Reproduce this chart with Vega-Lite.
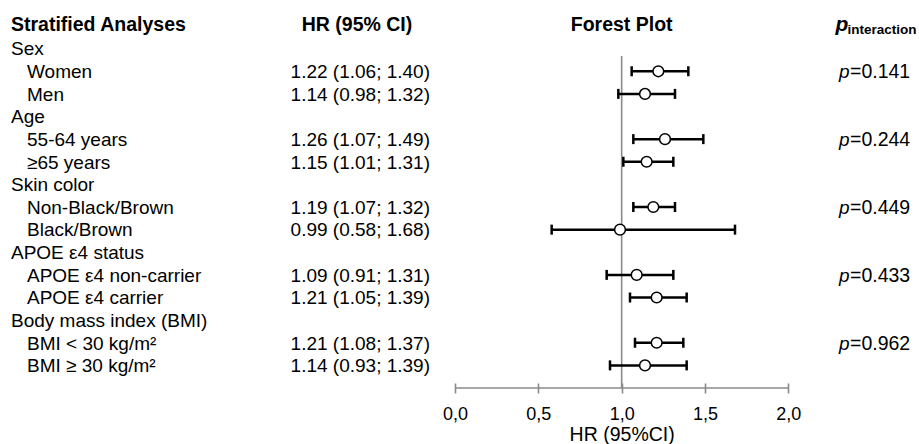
{
  "$schema": "https://vega.github.io/schema/vega-lite/v6.json",
  "padding": 0,
  "spacing": 0,
  "bounds": "flush",
  "config": {"view": {"stroke": null}, "font": "Liberation Sans"},
  "data": {"values": [
    {"row": 0, "label": "Sex", "level": 0},
    {"row": 1, "label": "Women", "level": 1, "hr": 1.22, "lo": 1.06, "hi": 1.40, "ci": "1.22 (1.06; 1.40)", "p": 0.141},
    {"row": 2, "label": "Men", "level": 1, "hr": 1.14, "lo": 0.98, "hi": 1.32, "ci": "1.14 (0.98; 1.32)"},
    {"row": 3, "label": "Age", "level": 0},
    {"row": 4, "label": "55-64 years", "level": 1, "hr": 1.26, "lo": 1.07, "hi": 1.49, "ci": "1.26 (1.07; 1.49)", "p": 0.244},
    {"row": 5, "label": "≥65 years", "level": 1, "hr": 1.15, "lo": 1.01, "hi": 1.31, "ci": "1.15 (1.01; 1.31)"},
    {"row": 6, "label": "Skin color", "level": 0},
    {"row": 7, "label": "Non-Black/Brown", "level": 1, "hr": 1.19, "lo": 1.07, "hi": 1.32, "ci": "1.19 (1.07; 1.32)", "p": 0.449},
    {"row": 8, "label": "Black/Brown", "level": 1, "hr": 0.99, "lo": 0.58, "hi": 1.68, "ci": "0.99 (0.58; 1.68)"},
    {"row": 9, "label": "APOE ε4 status", "level": 0},
    {"row": 10, "label": "APOE ε4 non-carrier", "level": 1, "hr": 1.09, "lo": 0.91, "hi": 1.31, "ci": "1.09 (0.91; 1.31)", "p": 0.433},
    {"row": 11, "label": "APOE ε4 carrier", "level": 1, "hr": 1.21, "lo": 1.05, "hi": 1.39, "ci": "1.21 (1.05; 1.39)"},
    {"row": 12, "label": "Body mass index (BMI)", "level": 0},
    {"row": 13, "label": "BMI < 30 kg/m²", "level": 1, "hr": 1.21, "lo": 1.08, "hi": 1.37, "ci": "1.21 (1.08; 1.37)", "p": 0.962},
    {"row": 14, "label": "BMI ≥ 30 kg/m²", "level": 1, "hr": 1.14, "lo": 0.93, "hi": 1.39, "ci": "1.14 (0.93; 1.39)"}
  ]},
  "hconcat": [
    {
      "width": 240,
      "height": 388,
      "layer": [
        {
          "data": {"values": [{"h": "Stratified Analyses", "row": -1}]},
          "mark": {"type": "text", "align": "left", "baseline": "alphabetic", "x": 11, "dy": 5, "fontSize": 19.5, "fontWeight": "bold"},
          "encoding": {
            "y": {"field": "row", "type": "quantitative", "scale": {"domain": [-2.15, 15], "reverse": true, "nice": false, "zero": false}, "axis": null},
            "text": {"field": "h"}
          }
        },
        {
          "transform": [{"filter": "datum.level == 0"}],
          "mark": {"type": "text", "align": "left", "baseline": "alphabetic", "x": 11, "dy": 6.8, "fontSize": 19},
          "encoding": {
            "y": {"field": "row", "type": "quantitative", "scale": {"domain": [-2.15, 15], "reverse": true, "nice": false, "zero": false}, "axis": null},
            "text": {"field": "label"}
          }
        },
        {
          "transform": [{"filter": "datum.level == 1"}],
          "mark": {"type": "text", "align": "left", "baseline": "alphabetic", "x": 27, "dy": 6.8, "fontSize": 19},
          "encoding": {
            "y": {"field": "row", "type": "quantitative", "scale": {"domain": [-2.15, 15], "reverse": true, "nice": false, "zero": false}, "axis": null},
            "text": {"field": "label"}
          }
        }
      ]
    },
    {
      "width": 215,
      "height": 388,
      "layer": [
        {
          "data": {"values": [{"h": "HR (95% CI)", "row": -1}]},
          "mark": {"type": "text", "align": "center", "baseline": "alphabetic", "x": 117, "dy": 5, "fontSize": 19.5, "fontWeight": "bold"},
          "encoding": {
            "y": {"field": "row", "type": "quantitative", "scale": {"domain": [-2.15, 15], "reverse": true, "nice": false, "zero": false}, "axis": null},
            "text": {"field": "h"}
          }
        },
        {
          "transform": [{"filter": "datum.level == 1"}],
          "mark": {"type": "text", "align": "right", "baseline": "alphabetic", "x": 190, "dy": 6.8, "fontSize": 19},
          "encoding": {
            "y": {"field": "row", "type": "quantitative", "scale": {"domain": [-2.15, 15], "reverse": true, "nice": false, "zero": false}, "axis": null},
            "text": {"field": "ci"}
          }
        }
      ]
    },
    {
      "width": 333.33,
      "height": 388,
      "layer": [
        {
          "data": {"values": [{"ref": 1, "top": 0.33, "bottom": 15}]},
          "mark": {"type": "rule", "color": "#8a8a8a", "strokeWidth": 1.6},
          "encoding": {
            "x": {"field": "ref", "type": "quantitative", "scale": {"domain": [0, 2], "nice": false, "zero": false}},
            "y": {"field": "top", "type": "quantitative", "scale": {"domain": [-2.15, 15], "reverse": true, "nice": false, "zero": false}, "axis": null},
            "y2": {"field": "bottom"}
          }
        },
        {
          "data": {"values": [{"a": 0, "b": 2, "row": 15}]},
          "mark": {"type": "rule", "color": "#8a8a8a", "strokeWidth": 1.6},
          "encoding": {
            "x": {"field": "a", "type": "quantitative"},
            "x2": {"field": "b"},
            "y": {"field": "row", "type": "quantitative"}
          }
        },
        {
          "transform": [{"filter": "datum.level == 1"}],
          "mark": {"type": "rule", "color": "black", "strokeWidth": 2.5},
          "encoding": {
            "x": {
              "field": "lo", "type": "quantitative",
              "axis": {
                "values": [0, 0.5, 1, 1.5, 2],
                "domain": false,
                "grid": false,
                "offset": -5,
                "tickSize": 10,
                "tickColor": "#8a8a8a",
                "tickWidth": 1.6,
                "labelExpr": "replace(format(datum.value, '.1f'), '.', ',')",
                "labelFontSize": 18,
                "labelColor": "black",
                "labelPadding": 12,
                "labelFlush": false,
                "labelOverlap": false,
                "title": "HR (95%CI)",
                "titleFontSize": 19.5,
                "titleFontWeight": "normal",
                "titleColor": "black",
                "titleBaseline": "alphabetic",
                "titleY": 57
              }
            },
            "x2": {"field": "hi"},
            "y": {"field": "row", "type": "quantitative"}
          }
        },
        {
          "transform": [{"filter": "datum.level == 1"}],
          "mark": {"type": "tick", "orient": "vertical", "color": "black", "size": 10, "thickness": 2.5, "opacity": 1},
          "encoding": {
            "x": {"field": "lo", "type": "quantitative"},
            "y": {"field": "row", "type": "quantitative"}
          }
        },
        {
          "transform": [{"filter": "datum.level == 1"}],
          "mark": {"type": "tick", "orient": "vertical", "color": "black", "size": 10, "thickness": 2.5, "opacity": 1},
          "encoding": {
            "x": {"field": "hi", "type": "quantitative"},
            "y": {"field": "row", "type": "quantitative"}
          }
        },
        {
          "transform": [{"filter": "datum.level == 1"}],
          "mark": {"type": "point", "shape": "circle", "filled": true, "fill": "white", "stroke": "black", "strokeWidth": 1.5, "size": 115, "opacity": 1},
          "encoding": {
            "x": {"field": "hr", "type": "quantitative"},
            "y": {"field": "row", "type": "quantitative"}
          }
        },
        {
          "data": {"values": [{"h": "Forest Plot", "row": -1, "xc": 1}]},
          "mark": {"type": "text", "align": "center", "baseline": "alphabetic", "dy": 5, "fontSize": 19.5, "fontWeight": "bold"},
          "encoding": {
            "x": {"field": "xc", "type": "quantitative"},
            "y": {"field": "row", "type": "quantitative"},
            "text": {"field": "h"}
          }
        }
      ]
    },
    {
      "width": 130.67,
      "height": 388,
      "layer": [
        {
          "data": {"values": [{"h": "p", "row": -1}]},
          "mark": {"type": "text", "align": "left", "baseline": "alphabetic", "x": 46.5, "dy": 5, "fontSize": 21, "fontWeight": "bold", "fontStyle": "italic"},
          "encoding": {
            "y": {"field": "row", "type": "quantitative", "scale": {"domain": [-2.15, 15], "reverse": true, "nice": false, "zero": false}, "axis": null},
            "text": {"field": "h"}
          }
        },
        {
          "data": {"values": [{"h": "interaction", "row": -1}]},
          "mark": {"type": "text", "align": "left", "baseline": "alphabetic", "x": 58.5, "dy": 8, "fontSize": 13.5, "fontWeight": "bold"},
          "encoding": {
            "y": {"field": "row", "type": "quantitative"},
            "text": {"field": "h"}
          }
        },
        {
          "transform": [{"filter": "isValid(datum.p)"}],
          "mark": {"type": "text", "align": "left", "baseline": "alphabetic", "x": 50, "dy": 6.8, "fontSize": 19, "fontStyle": "italic"},
          "encoding": {
            "y": {"field": "row", "type": "quantitative"},
            "text": {"value": "p"}
          }
        },
        {
          "transform": [{"filter": "isValid(datum.p)"}, {"calculate": "'=' + format(datum.p, '.3f')", "as": "ptxt"}],
          "mark": {"type": "text", "align": "left", "baseline": "alphabetic", "x": 61, "dy": 6.8, "fontSize": 19.5},
          "encoding": {
            "y": {"field": "row", "type": "quantitative"},
            "text": {"field": "ptxt"}
          }
        }
      ]
    }
  ]
}
